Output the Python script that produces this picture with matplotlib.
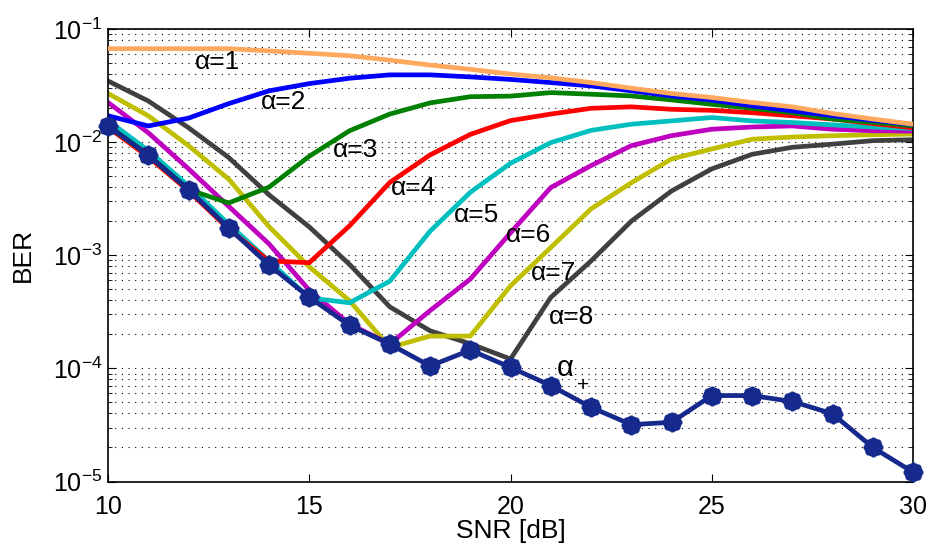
import matplotlib
matplotlib.use('Agg')
import matplotlib.pyplot as plt
import numpy as np

plt.rcParams['font.family'] = ['Liberation Sans', 'DejaVu Sans']
plt.rcParams['mathtext.fontset'] = 'custom'
plt.rcParams['mathtext.rm'] = 'Liberation Sans'
plt.rcParams['mathtext.it'] = 'Liberation Sans:italic'
plt.rcParams['mathtext.default'] = 'regular'

# SNR in dB
snr = np.arange(10, 31)

# BER for fixed alpha = 1..8
ber_a1 = [0.067, 0.067, 0.067, 0.067, 0.064, 0.061, 0.058, 0.053, 0.048, 0.044, 0.040,
          0.037, 0.0336, 0.030, 0.0269, 0.0248, 0.0224, 0.0205, 0.0179, 0.016, 0.0144]
ber_a2 = [0.0171, 0.0139, 0.0163, 0.0219, 0.0284, 0.0329, 0.0367, 0.0393, 0.0393, 0.0377, 0.0358,
          0.0336, 0.0314, 0.0284, 0.0256, 0.0235, 0.0209, 0.0189, 0.0171, 0.0156, 0.0143]
ber_a3 = [0.0139, 0.0077, 0.0038, 0.0029, 0.0040, 0.0075, 0.0126, 0.0177, 0.0222, 0.0252, 0.0255,
          0.0274, 0.0265, 0.0256, 0.0236, 0.0216, 0.0199, 0.0182, 0.0160, 0.0150, 0.0139]
ber_a4 = [0.0135, 0.0074, 0.0037, 0.0017, 0.00089, 0.00086, 0.00182, 0.0044, 0.0077, 0.0117, 0.0155,
          0.0177, 0.0199, 0.0205, 0.0195, 0.0191, 0.0182, 0.0171, 0.0160, 0.0146, 0.0134]
ber_a5 = [0.0155, 0.0084, 0.0041, 0.00188, 0.00089, 0.00042, 0.00038, 0.00059, 0.00163, 0.0036, 0.0065,
          0.0099, 0.0127, 0.0144, 0.0154, 0.0165, 0.0154, 0.0149, 0.0142, 0.0136, 0.0132]
ber_a6 = [0.0224, 0.0121, 0.0058, 0.0027, 0.00126, 0.00049, 0.000247, 0.000164, 0.000324, 0.000616, 0.00158,
          0.00397, 0.0062, 0.0093, 0.0114, 0.0130, 0.0136, 0.0139, 0.0130, 0.0126, 0.0125]
ber_a7 = [0.0269, 0.0171, 0.0093, 0.0047, 0.00179, 0.00079, 0.000396, 0.000153, 0.000193, 0.000193, 0.000537,
          0.00117, 0.00257, 0.00437, 0.0071, 0.0087, 0.0106, 0.0111, 0.0114, 0.0116, 0.0118]
ber_a8 = [0.0347, 0.0231, 0.0134, 0.0073, 0.00342, 0.00178, 0.00083, 0.00035, 0.000215, 0.000165, 0.000121,
          0.000424, 0.00089, 0.0020, 0.0037, 0.0058, 0.0078, 0.0090, 0.0096, 0.0103, 0.0105]

# BER with adaptive alpha
ber_plus = [0.0139, 0.0077, 0.0038, 0.00174, 0.00082, 0.000425, 0.00024, 0.000164, 0.000105, 0.000145, 0.000102,
            7.05e-5, 4.53e-5, 3.18e-5, 3.34e-5, 5.75e-5, 5.75e-5, 5.1e-5, 3.97e-5, 2.0e-5, 1.21e-5]

curves = [ber_a1, ber_a2, ber_a3, ber_a4, ber_a5, ber_a6, ber_a7, ber_a8]
colors = ['#ffa95f', '#0000ff', '#008000', '#ff0000', '#00bfbf', '#bf00bf', '#bfbf00', '#404040']
labels = ['α=1', 'α=2', 'α=3', 'α=4', 'α=5', 'α=6', 'α=7', 'α=8']
label_x = [12.71, 14.35, 16.14, 17.58, 19.16, 20.44, 21.06, 21.52]
label_y = [0.0514, 0.0227, 0.00851, 0.00393, 0.00226, 0.00151, 6.92e-4, 2.86e-4]

fig = plt.figure(figsize=(9.33, 5.51), dpi=100)
ax = fig.add_axes([0.1158, 0.1261, 0.8628, 0.8213])

for k in range(7, -1, -1):
    ax.plot(snr, curves[k], color=colors[k], lw=3.4, zorder=2 if k else 3)

navy = '#16298c'
ax.plot(snr, ber_plus, color=navy, lw=3.4, marker='o', ms=12.5, mec=navy, mfc=navy,
        zorder=4, clip_on=False)
ax.plot(snr, ber_plus, ls='none', marker=(8, 2, 0), ms=14, mec=navy, mew=2.2,
        zorder=4, clip_on=False)

for k in range(8):
    ax.text(label_x[k], label_y[k], labels[k], fontsize=19, ha='center', va='center', zorder=5)
ax.text(21.35, 1.0e-4, 'α', fontsize=21, ha='center', va='center', zorder=5)
ax.text(21.79, 7.1e-5, '+', fontsize=15, ha='center', va='center', zorder=5)

ax.set_yscale('log')
ax.set_xlim(10, 30)
ax.set_ylim(1e-5, 1e-1)
ax.set_xticks([10, 15, 20, 25, 30])
ax.yaxis.grid(True, which='both', color='k', lw=0.8, ls=(0, (1, 5)))
ax.tick_params(which='both', direction='in', top=True, right=True, labelsize=18)
ax.tick_params(which='major', length=6, width=0.8)
ax.tick_params(which='minor', length=3, width=0.6)
ax.tick_params(axis='x', pad=10)
ax.tick_params(axis='y', pad=4)
for s in ax.spines.values():
    s.set_linewidth(1.2)

ax.set_xlabel('SNR [dB]', fontsize=19, labelpad=0)
ax.set_ylabel('BER', fontsize=19, labelpad=13)

fig.savefig('out.png', dpi=100)
